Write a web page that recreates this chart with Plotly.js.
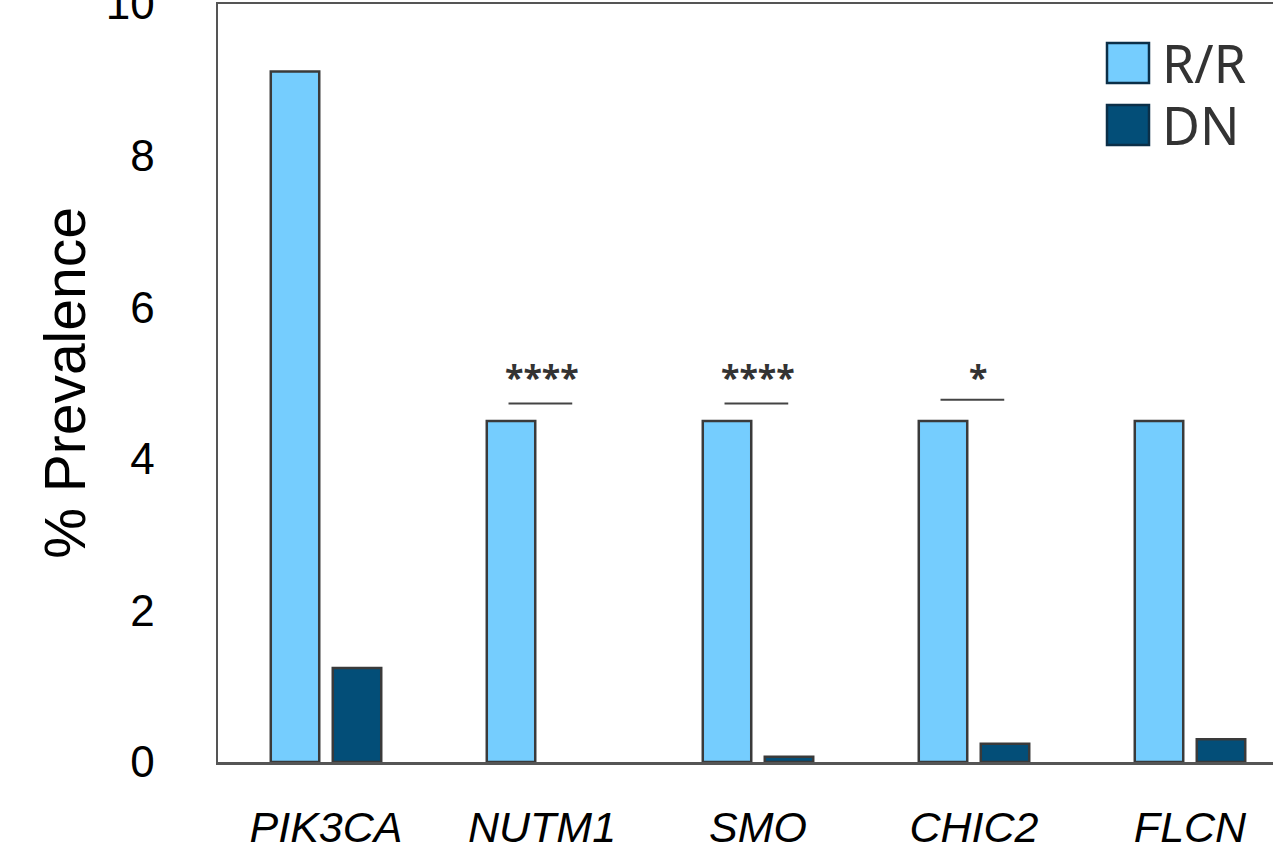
<!DOCTYPE html>
<html>
<head>
<meta charset="utf-8">
<script src="https://cdn.plot.ly/plotly-3.0.1.min.js"></script>
<style>
html,body{margin:0;padding:0;overflow:hidden;background:#fff;}
#wrap{position:relative;width:1273px;height:853px;overflow:hidden;}
#chart{position:absolute;left:0;top:-30px;width:1400px;height:883px;}
</style>
</head>
<body>
<div id="wrap"><div id="chart"></div></div>
<script>
// Data
const genes = ["PIK3CA", "NUTM1", "SMO", "CHIC2", "FLCN"];
const seriesNames = ["R/R", "DN"];
const rrValues = [9.11, 4.5, 4.5, 4.5, 4.5];
const dnValues = [1.24, 0, 0.07, 0.24, 0.30];
const sigLabels = ["", "****", "****", "*", ""];
const yTicks = [0, 2, 4, 6, 8, 10];

const colRR = "#75CDFE";
const colDN = "#034E78";
const outline = "#3a3a3a";
const lw = v => (v > 0 ? 2.5 : 0);

const traces = [
  {type: "bar", name: seriesNames[0], x: genes, y: rrValues,
   marker: {color: colRR, line: {color: outline, width: rrValues.map(lw)}}, showlegend: false, hoverinfo: "x+y"},
  {type: "bar", name: seriesNames[1], x: genes, y: dnValues,
   marker: {color: colDN, line: {color: outline, width: dnValues.map(lw)}}, showlegend: false, hoverinfo: "x+y"}
];

const TOP = 34, PH = 758.5;  // plot top offset inside div, plot height
const shapes = [];
const annotations = [];
sigLabels.forEach((s, i) => {
  if (!s) return;
  const lineY = s === "*" ? 4.78 : 4.73;
  shapes.push({type: "line", xref: "x", yref: "y", x0: i - 0.155, x1: i + 0.14, y0: lineY, y1: lineY,
               line: {color: "#444", width: 2}});
  annotations.push({xref: "x", yref: "y", x: i + (s === "*" ? 0.02 : 0), y: 5.08, text: "<b>" + s + "</b>", showarrow: false,
                    font: {family: "Noto Sans", size: 34, color: "#333"}, xanchor: "center", yanchor: "middle"});
});

// Custom legend (large swatches)
const legendCols = [colRR, colDN];
const legendTop = [43, 105];
legendCols.forEach((c, i) => {
  shapes.push({type: "rect", xref: "paper", yref: "paper",
    x0: (1107 - 218) / 1080, x1: (1149 - 218) / 1080,
    y0: 1 - (legendTop[i] + 40 - 4) / PH, y1: 1 - (legendTop[i] - 4) / PH,
    fillcolor: c, line: {color: "#0b2f48", width: 2.5}});
  annotations.push({xref: "paper", yref: "paper", x: (1160 - 218) / 1080, y: 1 - (legendTop[i] + 20 - 4) / PH,
    text: seriesNames[i], showarrow: false, xanchor: "left", yanchor: "middle",
    font: {family: "Noto Sans", size: 52, color: "#333"}});
});

const layout = {
  width: 1400, height: 883,
  margin: {l: 218, r: 102, t: TOP, b: 91},
  paper_bgcolor: "#fff", plot_bgcolor: "#fff",
  barmode: "group", bargap: 0.426, bargroupgap: 0.218,
  xaxis: {type: "category", range: [-0.5, 4.5], showline: true, mirror: true, linecolor: "#555", linewidth: 2.5,
          ticks: "", showgrid: false, zeroline: false, ticklabelstandoff: 26,
          tickfont: {family: "Liberation Sans", size: 43, color: "#000", style: "italic"}},
  yaxis: {range: [0, 10], tickvals: yTicks, showline: true, mirror: true, linecolor: "#555", linewidth: 2.5,
          ticks: "", showgrid: false, zeroline: false, ticklabelstandoff: 52,
          tickfont: {family: "Liberation Sans", size: 44, color: "#000"},
          title: {text: "% Prevalence", standoff: 2, font: {family: "Liberation Sans", size: 57, color: "#000"}}},
  shapes: shapes,
  annotations: annotations,
  font: {family: "Liberation Sans"}
};

Plotly.newPlot("chart", traces, layout, {displayModeBar: false, staticPlot: true});
</script>
</body>
</html>
